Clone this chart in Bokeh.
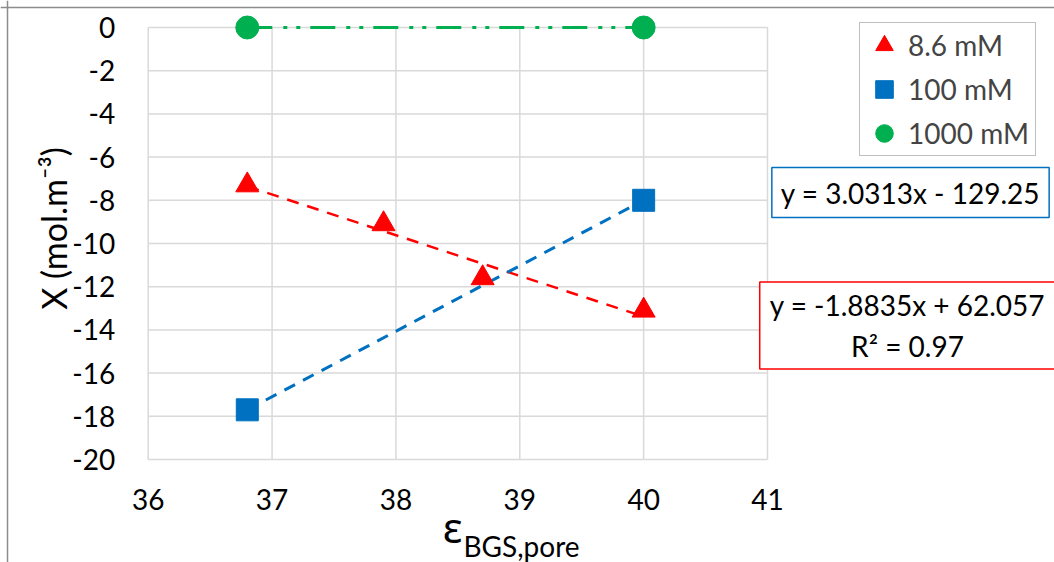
import numpy as np
from bokeh.plotting import figure
from bokeh.models import Range1d, FixedTicker, Legend, LegendItem, Label, Span
from bokeh.embed import file_html
from bokeh.resources import INLINE

# ---- data ----
x_86 = [36.8, 37.9, 38.7, 40.0]
y_86 = [-7.3, -9.1, -11.6, -13.1]
x_100 = [36.8, 40.0]
y_100 = [-17.7, -8.0]
x_1000 = [36.8, 40.0]
y_1000 = [0.0, 0.0]
x_ticks = [36, 37, 38, 39, 40, 41]
y_ticks = [-20, -18, -16, -14, -12, -10, -8, -6, -4, -2, 0]
series_names = ["8.6 mM", "100 mM", "1000 mM"]
eq_100 = "y = 3.0313x - 129.25"
eq_86 = "y = -1.8835x + 62.057\nR² = 0.97"
y_title = "X (mol.m⁻³)"
x_title_main = "ε"
x_title_sub = "BGS,pore"

RED = "#FF0000"
BLUE = "#0070C0"
GREEN = "#00B050"
GRID = "#D9D9D9"
FONT = "Lato"

W, H = 1054, 562
p = figure(width=W, height=H, output_backend="svg", toolbar_location=None,
           x_range=Range1d(34.8075, 43.3171), y_range=Range1d(-24.7685, 1.25),
           min_border=0, min_border_left=0, min_border_right=0,
           min_border_top=0, min_border_bottom=0,
           background_fill_color="white", border_fill_color="white")
p.outline_line_color = None
p.xgrid.visible = False
p.ygrid.visible = False

# outer chart border (top and left visible in the reference)
xr, yr = p.x_range, p.y_range
px_x = W / (xr.end - xr.start)
px_y = H / (yr.end - yr.start)
p.add_layout(Span(location=xr.start + 7 / px_x, dimension="height", line_color="#8c8c8c", line_width=1.5))
p.add_layout(Span(location=yr.end - 7 / px_y, dimension="width", line_color="#8c8c8c", line_width=1.5))

# grid lines from tick arrays
ymin, ymax = min(y_ticks), max(y_ticks)
xmin, xmax = min(x_ticks), max(x_ticks)
p.segment(x0=x_ticks, y0=[ymin] * len(x_ticks), x1=x_ticks, y1=[ymax] * len(x_ticks),
          line_color=GRID, line_width=1.5)
p.segment(x0=[xmin] * len(y_ticks), y0=y_ticks, x1=[xmax] * len(y_ticks), y1=y_ticks,
          line_color=GRID, line_width=1.5)

# trend lines
def trend(xs, ys):
    c = np.polyfit(xs, ys, 1)
    xx = np.array([min(xs), max(xs)])
    return xx, np.polyval(c, xx)

tx, ty = trend(x_86, y_86)
p.line(tx, ty, line_color=RED, line_width=2.5, line_dash="12 9")
tx, ty = trend(x_100, y_100)
p.line(tx, ty, line_color=BLUE, line_width=3, line_dash="12 9")
tx, ty = trend(x_1000, y_1000)
p.line(tx, ty, line_color=GREEN, line_width=3, line_dash="25 11 4 9 4 10")

r86 = p.scatter(x_86, y_86, marker="triangle", size=23, fill_color=RED, line_color=RED)
r100 = p.scatter(x_100, y_100, marker="square", size=22, fill_color=BLUE, line_color=BLUE)
r1000 = p.scatter(x_1000, y_1000, marker="circle", size=23, fill_color=GREEN, line_color=GREEN)

# axes drawn at fixed positions inside the frame
for ax in (p.xaxis[0], p.yaxis[0]):
    ax.axis_line_color = None
    ax.major_tick_line_color = None
    ax.minor_tick_line_color = None
    ax.major_label_text_font = FONT
    ax.major_label_text_font_size = "28px"
    ax.major_label_text_color = "black"
p.xaxis.ticker = FixedTicker(ticks=x_ticks)
p.yaxis.ticker = FixedTicker(ticks=y_ticks)
p.xaxis.major_label_overrides = {t: str(t) for t in x_ticks}
p.yaxis.major_label_overrides = {t: str(t) for t in y_ticks}
p.xaxis.fixed_location = ymin
p.yaxis.fixed_location = xmin
p.xaxis.major_label_standoff = 23
p.yaxis.major_label_standoff = 27

# y title
p.add_layout(Label(x=53, y=334, x_units="screen", y_units="screen", text=y_title,
                   angle=np.pi / 2, text_align="center", text_baseline="alphabetic",
                   text_font=FONT, text_font_size="34px", text_color="black"))

# x title (epsilon with subscript)
p.add_layout(Label(x=462, y=36, x_units="screen", y_units="screen", text=x_title_main,
                   text_align="right", text_baseline="alphabetic",
                   text_font="Noto Sans", text_font_size="42px", text_color="black"))
p.add_layout(Label(x=463, y=17, x_units="screen", y_units="screen", text=x_title_sub,
                   text_align="left", text_baseline="alphabetic",
                   text_font=FONT, text_font_size="28px", text_color="black"))

# legend
legend = Legend(items=[LegendItem(label=series_names[0], renderers=[r86]),
                       LegendItem(label=series_names[1], renderers=[r100]),
                       LegendItem(label=series_names[2], renderers=[r1000])],
                location=(859, 406), glyph_width=48, glyph_height=44, spacing=0,
                padding=0, label_standoff=0, label_width=127,
                label_text_font=FONT, label_text_font_size="28px",
                border_line_color="#808080", border_line_width=1.5,
                background_fill_color="white", background_fill_alpha=1)
p.add_layout(legend)

# equation boxes
p.add_layout(Label(x=910, y=370, x_units="screen", y_units="screen", text=eq_100,
                   text_align="center", text_baseline="middle",
                   text_font=FONT, text_font_size="28px", text_color="black",
                   border_line_color=BLUE, border_line_width=1.5,
                   background_fill_color="white", padding=(9, 8)))
p.add_layout(Label(x=907, y=237, x_units="screen", y_units="screen", text=eq_86,
                   text_align="center", text_baseline="middle",
                   text_font=FONT, text_font_size="28px", text_color="black",
                   border_line_color=RED, border_line_width=1.5,
                   background_fill_color="white", padding=(10, 6)))

open("out.html", "w").write(file_html(p, INLINE))
